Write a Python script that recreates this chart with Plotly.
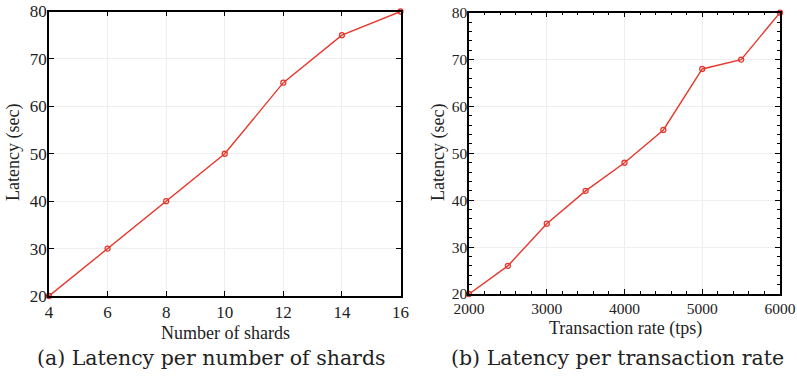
import plotly.graph_objects as go

shards = [4, 6, 8, 10, 12, 14, 16]
latency_shards = [20, 30, 40, 50, 65, 75, 80]
tx_rate = [2000, 2500, 3000, 3500, 4000, 4500, 5000, 5500, 6000]
latency_rate = [20, 26, 35, 42, 48, 55, 68, 70, 80]
caption_a = "(a) Latency per number of shards"
caption_b = "(b) Latency per transaction rate"

W, H = 797, 381
RED = "#e8372c"
FONT = "Liberation Serif"
CAP_FONT = "DejaVu Serif"

fig = go.Figure()
fig.add_trace(go.Scatter(x=shards, y=latency_shards, mode="lines+markers",
                         line=dict(color=RED, width=1.4),
                         marker=dict(symbol="circle-open", size=5, color=RED, line=dict(width=1.3)),
                         xaxis="x", yaxis="y", showlegend=False, cliponaxis=False))
fig.add_trace(go.Scatter(x=tx_rate, y=latency_rate, mode="lines+markers",
                         line=dict(color=RED, width=1.4),
                         marker=dict(symbol="circle-open", size=5, color=RED, line=dict(width=1.3)),
                         xaxis="x2", yaxis="y2", showlegend=False, cliponaxis=False))

def px_x(p):
    return p / W

def px_y(p):
    return 1 - p / H

common = dict(showline=True, linecolor="black", linewidth=1.5, mirror="ticks",
              ticks="inside", ticklen=5, tickcolor="black", tickwidth=1,
              showgrid=True, gridcolor="#eeeeee", gridwidth=1, zeroline=False,
              automargin=False)
f_left = dict(family=FONT, size=17, color="#222")
f_right = dict(family=FONT, size=15.5, color="#222")

fig.update_layout(
    width=W, height=H, margin=dict(l=0, r=0, t=0, b=0, autoexpand=False),
    paper_bgcolor="white", plot_bgcolor="white",
    font=dict(family=FONT, size=17, color="#222"),
    xaxis=dict(domain=[px_x(49), px_x(400.5)], range=[4, 16], tickvals=[4, 6, 8, 10, 12, 14, 16],
               anchor="y", ticklabelstandoff=0, tickfont=f_left, **common),
    yaxis=dict(domain=[px_y(296), px_y(11.5)], range=[20, 80], tickvals=[20, 30, 40, 50, 60, 70, 80],
               anchor="x", ticklabelstandoff=-3, tickfont=f_left, **common),
    xaxis2=dict(domain=[px_x(469), px_x(780)], range=[2000, 6000],
                tickvals=[2000, 3000, 4000, 5000, 6000], anchor="y2", ticklabelstandoff=0,
                tickfont=f_right,
                minor=dict(dtick=200, tick0=2000, ticks="inside", ticklen=3, tickcolor="black", showgrid=False),
                **common),
    yaxis2=dict(domain=[px_y(294), px_y(12.7)], range=[20, 80], tickvals=[20, 30, 40, 50, 60, 70, 80],
                anchor="x2", ticklabelstandoff=-3, tickfont=f_right,
                minor=dict(dtick=2, tick0=20, ticks="inside", ticklen=3, tickcolor="black", showgrid=False),
                **common),
)

ann = [
    dict(text="Number of shards", x=px_x(225), y=px_y(333), size=18, fam=FONT),
    dict(text="Transaction rate (tps)", x=px_x(625), y=px_y(328), size=18, fam=FONT),
    dict(text=caption_a, x=px_x(212), y=px_y(358), size=20.5, fam=CAP_FONT),
    dict(text=caption_b, x=px_x(617), y=px_y(358), size=20.5, fam=CAP_FONT),
]
for a in ann:
    fig.add_annotation(text=a["text"], x=a["x"], y=a["y"], xref="paper", yref="paper",
                       showarrow=False, xanchor="center", yanchor="middle",
                       font=dict(family=a["fam"], size=a["size"], color="#222"))
for xx in (14, 439):
    fig.add_annotation(text="Latency (sec)", x=px_x(xx), y=px_y(153), xref="paper", yref="paper",
                       showarrow=False, textangle=-90, xanchor="center", yanchor="middle",
                       font=dict(family=FONT, size=18, color="#222"))

fig.write_html("out.html", config={"displayModeBar": False},
               post_script="document.body.style.margin='0';document.body.style.overflow='hidden';")
